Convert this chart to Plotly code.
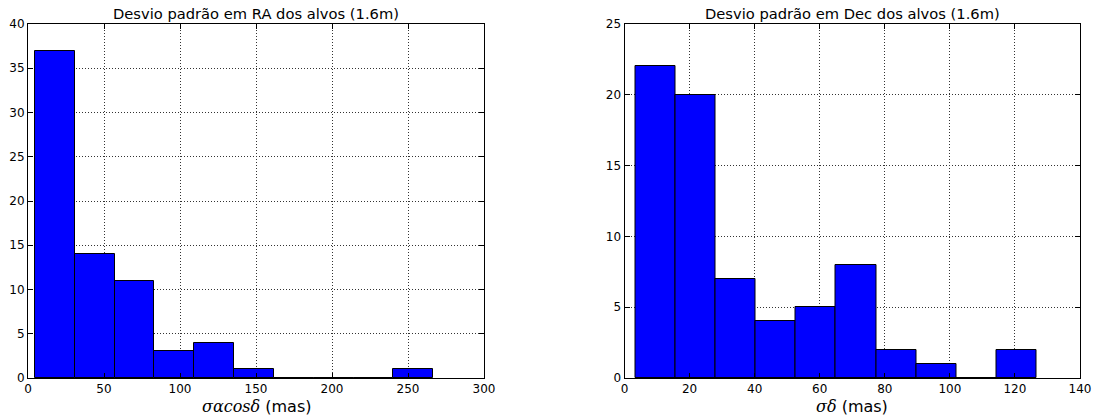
import plotly.graph_objects as go

# Data
ra_edges = [4.6, 30.8, 57.0, 83.2, 109.4, 135.6, 161.8, 188.0, 214.2, 240.4, 266.6]
ra_counts = [37, 14, 11, 3, 4, 1, 0, 0, 0, 1]
dec_edges = [3.5, 15.8, 28.1, 40.4, 52.7, 65.0, 77.3, 89.6, 101.9, 114.2, 126.5]
dec_counts = [22, 20, 7, 4, 5, 8, 2, 1, 0, 2]
ra_title = "Desvio padrão em RA dos alvos (1.6m)"
dec_title = "Desvio padrão em Dec dos alvos (1.6m)"
MATH = '<span style="font-family:DejaVu Serif;font-style:italic">%s</span>'
ra_xlabel = MATH % "σαcosδ" + " (mas)"
dec_xlabel = MATH % "σδ" + " (mas)"

def centers(edges):
    return [(a + b) / 2 for a, b in zip(edges[:-1], edges[1:])]

def widths(edges):
    return [b - a for a, b in zip(edges[:-1], edges[1:])]

fig = go.Figure()
fig.add_trace(go.Bar(x=centers(ra_edges), y=ra_counts, width=widths(ra_edges),
                     marker=dict(color="#0000FF", line=dict(color="black", width=1)),
                     xaxis="x", yaxis="y", showlegend=False))
fig.add_trace(go.Bar(x=centers(dec_edges), y=dec_counts, width=widths(dec_edges),
                     marker=dict(color="#0000FF", line=dict(color="black", width=1)),
                     xaxis="x2", yaxis="y2", showlegend=False))

W, H = 1097, 418
ML, MR, MT, MB = 28, 17, 24, 40
PW = W - ML - MR
PH = H - MT - MB

def px_x(p):
    return (p - ML) / PW

def px_y(p):
    return (H - MB - p) / PH

font = dict(family="DejaVu Sans", size=12, color="black")

axis_common = dict(showline=True, linecolor="black", linewidth=1, mirror="allticks",
                   ticks="inside", ticklen=5, tickcolor="black",
                   showgrid=True, gridcolor="#333333", griddash="1px,2px", gridwidth=1,
                   zeroline=False, tickfont=font, automargin=False)

title_font = dict(family="DejaVu Sans", size=14.7, color="black")
label_font = dict(family="DejaVu Sans", size=16, color="black")

fig.update_layout(
    width=W, height=H, margin=dict(l=ML, r=MR, t=MT, b=MB),
    plot_bgcolor="white", paper_bgcolor="white", bargap=0,
    font=font,
    xaxis=dict(domain=[px_x(28), px_x(484)], range=[0, 300], tickvals=list(range(0, 301, 50)),
               anchor="y", **axis_common),
    yaxis=dict(domain=[0, 1], range=[0, 40], tickvals=list(range(0, 41, 5)),
               anchor="x", **axis_common),
    xaxis2=dict(domain=[px_x(624.5), px_x(1080)], range=[0, 140], tickvals=list(range(0, 141, 20)),
                anchor="y2", **axis_common),
    yaxis2=dict(domain=[0, 1], range=[0, 25], tickvals=list(range(0, 26, 5)),
                anchor="x2", **axis_common),
    annotations=[
        dict(text=ra_title, x=px_x((28 + 484) / 2), y=px_y(14), xref="paper", yref="paper",
             xanchor="center", yanchor="middle", showarrow=False, font=title_font),
        dict(text=dec_title, x=px_x((624.5 + 1080) / 2), y=px_y(14), xref="paper", yref="paper",
             xanchor="center", yanchor="middle", showarrow=False, font=title_font),
        dict(text=ra_xlabel, x=px_x((28 + 484) / 2), y=px_y(406), xref="paper", yref="paper",
             xanchor="center", yanchor="middle", showarrow=False, font=label_font),
        dict(text=dec_xlabel, x=px_x((624.5 + 1080) / 2), y=px_y(406), xref="paper", yref="paper",
             xanchor="center", yanchor="middle", showarrow=False, font=label_font),
    ],
)

fig.write_html("out.html", config={"displayModeBar": False},
               post_script="document.body.style.margin='0';document.body.style.overflow='hidden';")
